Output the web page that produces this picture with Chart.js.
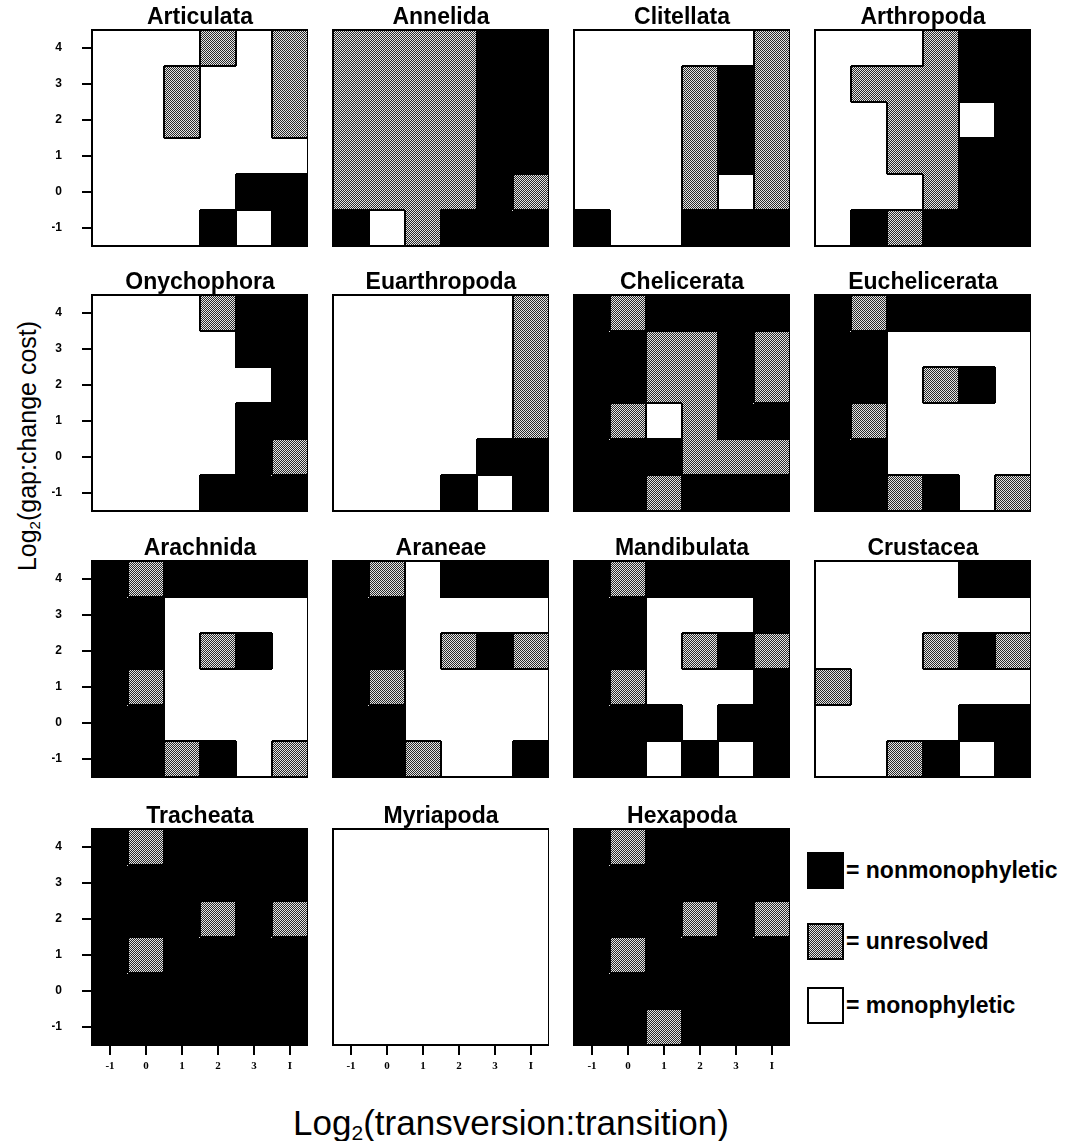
<!DOCTYPE html>
<html>
<head>
<meta charset="utf-8">
<script src="https://cdn.jsdelivr.net/npm/chart.js@4"></script>
<style>
  body { margin: 0; background: #fff; }
  #fig { position: relative; width: 1072px; height: 1141px; font-family: "Liberation Sans", Arial, sans-serif; color: #000; }
  #fig canvas { position: absolute; }
  .ytitle { position: absolute; left: 28px; top: 446px; font-size: 25px; white-space: nowrap; transform: translate(-50%, -50%) rotate(-90deg); }
  .xtitle { position: absolute; left: 511px; top: 1105px; font-size: 35px; line-height: 1; white-space: nowrap; transform: translateX(-50%); }
  sub { font-size: 0.6em; vertical-align: -0.25em; }
  .key { position: absolute; left: 807px; width: 37px; height: 37px; box-sizing: border-box; border: 2px solid #000; }
  .keytxt { position: absolute; left: 846px; font-size: 23px; font-weight: bold; line-height: 37px; white-space: nowrap; }
  .gray { background: repeating-conic-gradient(#2a2a2a 0 25%, #e4e4e4 0 50%) 0 0 / 2px 2px; }
</style>
</head>
<body>
<div id="fig">
  <div class="ytitle">Log<sub>2</sub>(gap:change cost)</div>
  <div class="xtitle">Log<sub>2</sub>(transversion:transition)</div>
  <div class="key" style="top:852px;background:#000"></div>
  <div class="keytxt" style="top:852px">= nonmonophyletic</div>
  <div class="key gray" style="top:923px"></div>
  <div class="keytxt" style="top:923px">= unresolved</div>
  <div class="key" style="top:987px;background:#fff"></div>
  <div class="keytxt" style="top:987px">= monophyletic</div>
</div>
<script>
// taxa, one panel each, left to right and top to bottom
const taxa = ['Articulata', 'Annelida', 'Clitellata', 'Arthropoda',
  'Onychophora', 'Euarthropoda', 'Chelicerata', 'Euchelicerata',
  'Arachnida', 'Araneae', 'Mandibulata', 'Crustacea',
  'Tracheata', 'Myriapoda', 'Hexapoda'];

// log2(transversion:transition) and log2(gap:change cost)
const xTicks = ['-1', '0', '1', '2', '3', 'I'];
const yTicks = [4, 3, 2, 1, 0, -1];

// rows from y=4 down to y=-1
// B = nonmonophyletic, G = unresolved, W = monophyletic
const articulata    = ['WWWGWG', 'WWGWWG', 'WWGWWG', 'WWWWWW', 'WWWWBB', 'WWWBWB'];
const annelida      = ['GGGGBB', 'GGGGBB', 'GGGGBB', 'GGGGBB', 'GGGGBG', 'BWGBBB'];
const clitellata    = ['WWWWWG', 'WWWGBG', 'WWWGBG', 'WWWGBG', 'WWWGWG', 'BWWBBB'];
const arthropoda    = ['WWWGBB', 'WGGGBB', 'WWGGWB', 'WWGGBB', 'WWWGBB', 'WBGBBB'];
const onychophora   = ['WWWGBB', 'WWWWBB', 'WWWWWB', 'WWWWBB', 'WWWWBG', 'WWWBBB'];
const euarthropoda  = ['WWWWWG', 'WWWWWG', 'WWWWWG', 'WWWWWG', 'WWWWBB', 'WWWBWB'];
const chelicerata   = ['BGBBBB', 'BBGGBG', 'BBGGBG', 'BGWGBB', 'BBBGGG', 'BBGBBB'];
const euchelicerata = ['BGBBBB', 'BBWWWW', 'BBWGBW', 'BGWWWW', 'BBWWWW', 'BBGBWG'];
const arachnida     = ['BGBBBB', 'BBWWWW', 'BBWGBW', 'BGWWWW', 'BBWWWW', 'BBGBWG'];
const araneae       = ['BGWBBB', 'BBWWWW', 'BBWGBG', 'BGWWWW', 'BBWWWW', 'BBGWWB'];
const mandibulata   = ['BGBBBB', 'BBWWWB', 'BBWGBG', 'BGWWWB', 'BBBWBB', 'BBWBWB'];
const crustacea     = ['WWWWBB', 'WWWWWW', 'WWWGBG', 'GWWWWW', 'WWWWBB', 'WWGBWB'];
const tracheata     = ['BGBBBB', 'BBBBBB', 'BBBGBG', 'BGBBBB', 'BBBBBB', 'BBBBBB'];
const myriapoda     = ['WWWWWW', 'WWWWWW', 'WWWWWW', 'WWWWWW', 'WWWWWW', 'WWWWWW'];
const hexapoda      = ['BGBBBB', 'BBBBBB', 'BBBGBG', 'BGBBBB', 'BBBBBB', 'BBGBBB'];

const grids = [articulata, annelida, clitellata, arthropoda,
  onychophora, euarthropoda, chelicerata, euchelicerata,
  arachnida, araneae, mandibulata, crustacea,
  tracheata, myriapoda, hexapoda];

// layout
const colLeft = [92, 333, 574, 815];
const rowTop = [30, 295, 561, 829];
const PW = 216, PH = 216, AX = 40, XA = 40, TH = 28;
const sans = '"Liberation Sans", Arial, sans-serif';

// halftone grey for "unresolved"
const pc = document.createElement('canvas');
pc.width = 2; pc.height = 2;
const pctx = pc.getContext('2d');
pctx.fillStyle = '#e4e4e4'; pctx.fillRect(0, 0, 2, 2);
pctx.fillStyle = '#2a2a2a'; pctx.fillRect(0, 0, 1, 1); pctx.fillRect(1, 1, 1, 1);
const grey = pctx.createPattern(pc, 'repeat');
const fills = { B: '#000', G: grey, W: '#fff' };

// black lines where neighbouring cells differ, plus the frame
const outline = {
  id: 'outline',
  afterDatasetsDraw(chart, args, opts) {
    const { ctx, chartArea: a, scales: { x, y } } = chart;
    const g = opts.grid;
    const half = (x.getPixelForValue(1) - x.getPixelForValue(0)) / 2;
    ctx.save();
    ctx.strokeStyle = '#000';
    ctx.lineWidth = 2;
    ctx.beginPath();
    g.forEach((row, r) => {
      const yv = yTicks[r];
      for (let c = 0; c < row.length; c++) {
        const cx = x.getPixelForValue(c);
        if (c < row.length - 1 && row[c] !== row[c + 1]) {
          ctx.moveTo(cx + half, y.getPixelForValue(yv + 0.5));
          ctx.lineTo(cx + half, y.getPixelForValue(yv - 0.5));
        }
        if (r < g.length - 1 && row[c] !== g[r + 1][c]) {
          const py = y.getPixelForValue(yv - 0.5);
          ctx.moveTo(cx - half, py);
          ctx.lineTo(cx + half, py);
        }
      }
    });
    ctx.stroke();
    ctx.strokeRect(a.left, a.top, a.width, a.height);
    ctx.restore();
  }
};

const fig = document.getElementById('fig');

taxa.forEach((name, i) => {
  const col = i % 4, row = Math.floor(i / 4);
  const isLeft = col === 0;
  const isBottom = row === 3;
  const grid = grids[i];

  const cv = document.createElement('canvas');
  cv.width = AX + PW;
  cv.height = TH + PH + XA;
  cv.style.left = (colLeft[col] - AX) + 'px';
  cv.style.top = (rowTop[row] - TH) + 'px';
  fig.appendChild(cv);

  const datasets = grid.map((cells, r) => ({
    data: xTicks.map(() => [yTicks[r] - 0.5, yTicks[r] + 0.5]),
    backgroundColor: cells.split('').map(k => fills[k]),
    borderWidth: 0,
    inflateAmount: 1,
    grouped: false,
    barPercentage: 1,
    categoryPercentage: 1
  }));

  new Chart(cv, {
    type: 'bar',
    data: { labels: xTicks, datasets: datasets },
    options: {
      responsive: false,
      animation: false,
      devicePixelRatio: 1,
      layout: { padding: 0 },
      events: [],
      plugins: {
        legend: { display: false },
        tooltip: { enabled: false },
        title: {
          display: true,
          fullSize: false,
          text: name,
          color: '#000',
          font: { family: sans, size: 23, weight: 'bold', lineHeight: 1 },
          padding: { top: 4, bottom: 1 }
        },
        outline: { grid: grid }
      },
      scales: {
        x: {
          offset: true,
          grid: { offset: false, drawOnChartArea: false, drawTicks: isBottom, tickLength: 10, lineWidth: 2, color: '#000' },
          border: { display: false },
          ticks: {
            display: isBottom, padding: 5, color: '#000', maxRotation: 0, autoSkip: false,
            font: { family: '"Liberation Serif", serif', size: 11, weight: 'bold' }
          },
          afterFit: s => { s.height = XA; }
        },
        y: {
          min: -1.5,
          max: 4.5,
          afterBuildTicks: s => { s.ticks = yTicks.map(v => ({ value: v })); },
          grid: { drawOnChartArea: false, drawTicks: isLeft, tickLength: 10, lineWidth: 2, color: '#000' },
          border: { display: false },
          ticks: {
            display: isLeft, padding: 20, color: '#000',
            font: { family: sans, size: 12, weight: 'bold' }
          },
          afterFit: s => { s.width = AX; }
        }
      }
    },
    plugins: [outline]
  });
});
</script>
</body>
</html>
